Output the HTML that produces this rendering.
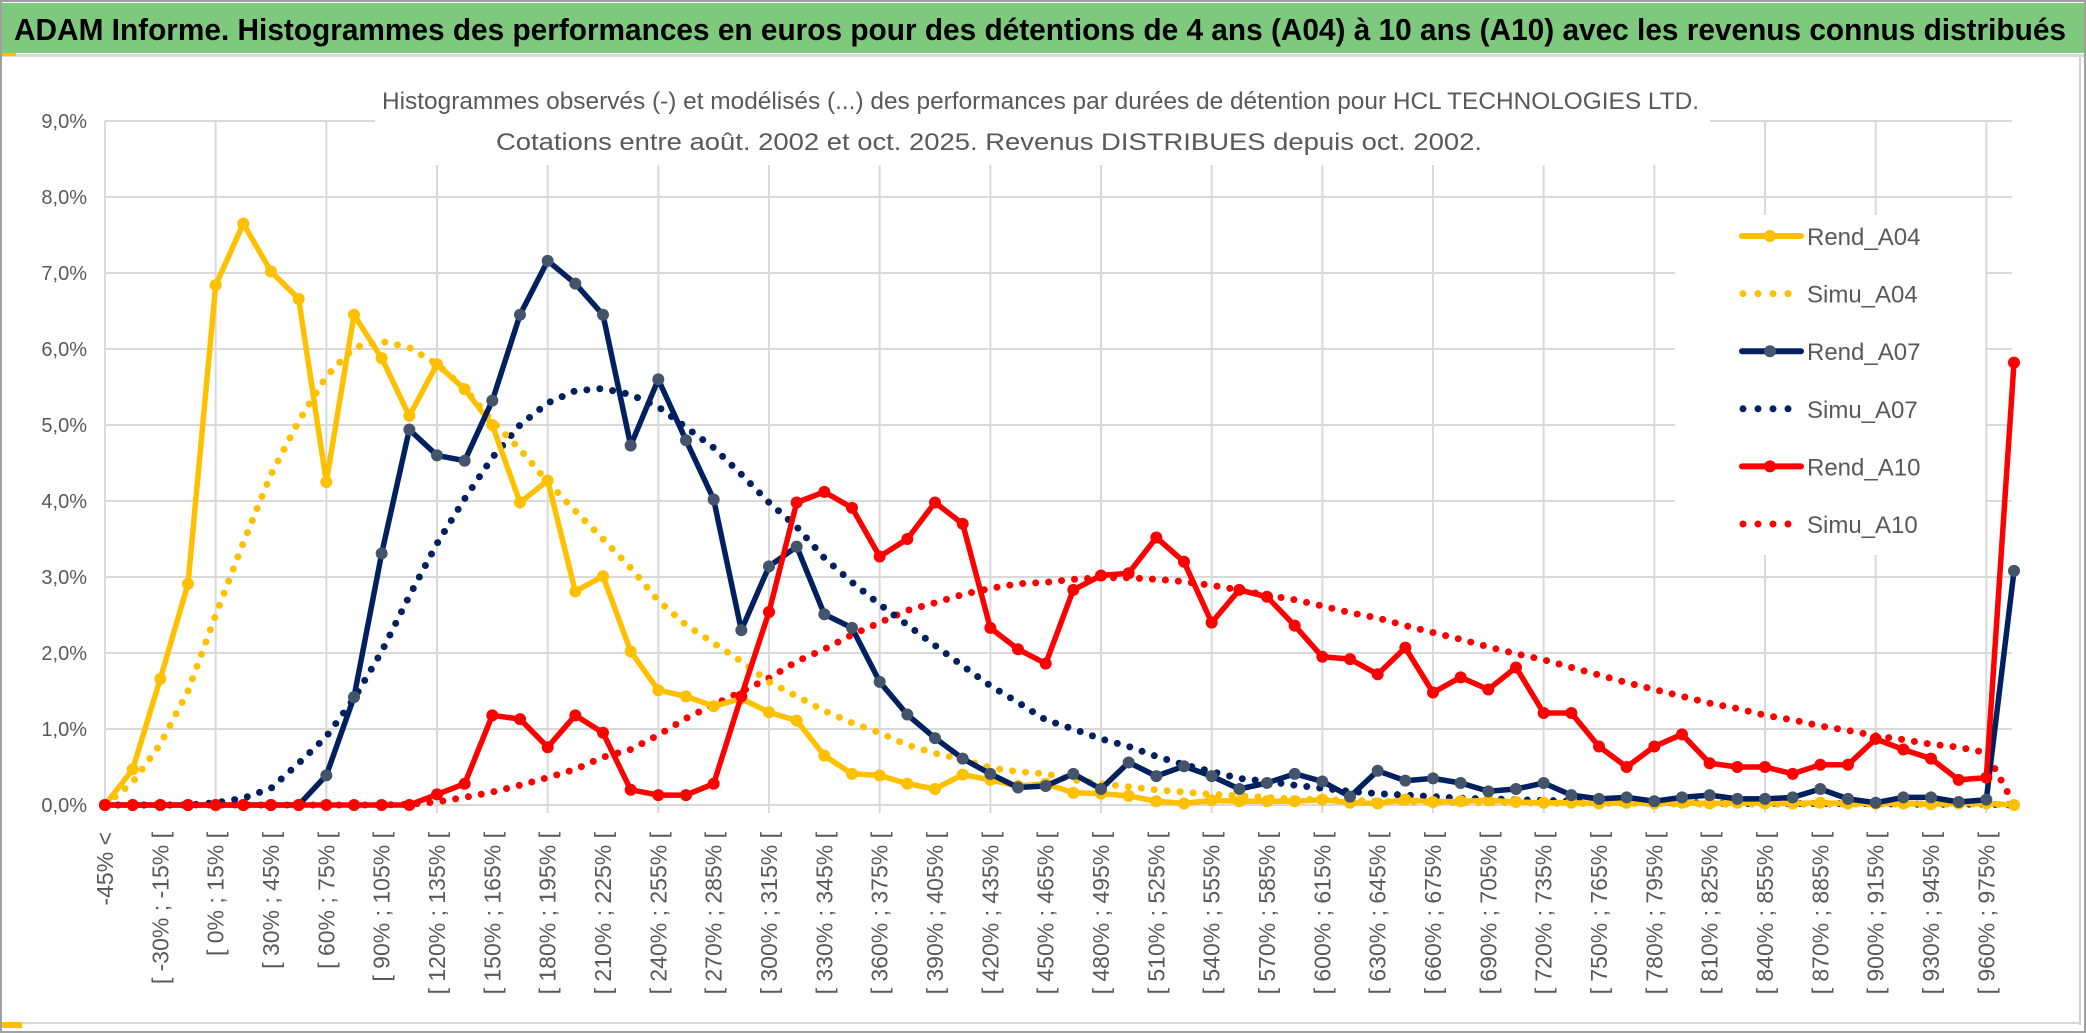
<!DOCTYPE html>
<html><head><meta charset="utf-8"><style>
html,body{margin:0;padding:0;background:#fff;}
svg{display:block;font-family:"Liberation Sans",sans-serif;}
</style></head><body>
<svg id="chart" width="2086" height="1033" viewBox="0 0 2086 1033" xmlns="http://www.w3.org/2000/svg">
<rect x="0" y="0" width="2086" height="1033" fill="#fff"/>
<rect x="1" y="1" width="2084" height="1031" fill="none" stroke="#a0a0a0" stroke-width="2"/>
<rect x="2" y="3" width="2082" height="50" fill="#7fc97f"/>
<rect x="2" y="54" width="2082" height="3" fill="#d9d9d9"/>
<text x="14" y="40" font-size="31" font-weight="bold" fill="#000" textLength="2052" lengthAdjust="spacingAndGlyphs">ADAM Informe. Histogrammes des performances en euros pour des détentions de 4 ans (A04) à 10 ans (A10) avec les revenus connus distribués</text>
<line x1="2080" y1="57" x2="2080" y2="1025" stroke="#d0d0d0" stroke-width="2"/>
<line x1="2" y1="1023" x2="2080" y2="1023" stroke="#d9d9d9" stroke-width="2"/>
<rect x="2" y="1022" width="20" height="6" fill="#ffc000"/>
<rect x="2" y="53" width="14" height="3" fill="#ffc000"/>
<g id="grid"></g>
<g id="ylabels"></g>
<g id="xlabels"></g>
<rect x="1675" y="215" width="310" height="340" fill="#fff"/>
<rect x="375" y="75" width="1335" height="90" fill="#fff"/>
<text x="382" y="109" font-size="24" fill="#595959" textLength="1317" lengthAdjust="spacingAndGlyphs">Histogrammes observés (-) et modélisés (...) des performances par durées de détention pour HCL TECHNOLOGIES LTD.</text>
<text x="496" y="150" font-size="24" fill="#595959" textLength="986" lengthAdjust="spacingAndGlyphs">Cotations entre août. 2002 et oct. 2025. Revenus DISTRIBUES depuis oct. 2002.</text>
<g id="series"></g>
<g id="legend"></g>
</svg>
<script>
const categories = ["-45% <","[ -45% ; -30% [","[ -30% ; -15% [","[ -15% ; 0% [","[ 0% ; 15% [","[ 15% ; 30% [","[ 30% ; 45% [","[ 45% ; 60% [","[ 60% ; 75% [","[ 75% ; 90% [",
"[ 90% ; 105% [","[ 105% ; 120% [","[ 120% ; 135% [","[ 135% ; 150% [","[ 150% ; 165% [","[ 165% ; 180% [","[ 180% ; 195% [","[ 195% ; 210% [","[ 210% ; 225% [","[ 225% ; 240% [",
"[ 240% ; 255% [","[ 255% ; 270% [","[ 270% ; 285% [","[ 285% ; 300% [","[ 300% ; 315% [","[ 315% ; 330% [","[ 330% ; 345% [","[ 345% ; 360% [","[ 360% ; 375% [","[ 375% ; 390% [",
"[ 390% ; 405% [","[ 405% ; 420% [","[ 420% ; 435% [","[ 435% ; 450% [","[ 450% ; 465% [","[ 465% ; 480% [","[ 480% ; 495% [","[ 495% ; 510% [","[ 510% ; 525% [","[ 525% ; 540% [",
"[ 540% ; 555% [","[ 555% ; 570% [","[ 570% ; 585% [","[ 585% ; 600% [","[ 600% ; 615% [","[ 615% ; 630% [","[ 630% ; 645% [","[ 645% ; 660% [","[ 660% ; 675% [","[ 675% ; 690% [",
"[ 690% ; 705% [","[ 705% ; 720% [","[ 720% ; 735% [","[ 735% ; 750% [","[ 750% ; 765% [","[ 765% ; 780% [","[ 780% ; 795% [","[ 795% ; 810% [","[ 810% ; 825% [","[ 825% ; 840% [",
"[ 840% ; 855% [","[ 855% ; 870% [","[ 870% ; 885% [","[ 885% ; 900% [","[ 900% ; 915% [","[ 915% ; 930% [","[ 930% ; 945% [","[ 945% ; 960% [","[ 960% ; 975% [","[ 975% ; 990% ["];
const yTicks = ["0,0%","1,0%","2,0%","3,0%","4,0%","5,0%","6,0%","7,0%","8,0%","9,0%"];
const rendA04 = [0,0.47,1.66,2.91,6.84,7.65,7.02,6.66,4.25,6.45, 5.88,5.12,5.8,5.47,5.0,3.98,4.27,2.81,3.01,2.02, 1.51,1.43,1.30,1.40,1.22,1.11,0.65,0.41,0.39,0.28, 0.21,0.40,0.33,0.25,0.28,0.16,0.15,0.12,0.05,0.02, 0.06,0.05,0.05,0.05,0.07,0.03,0.02,0.07,0.04,0.05, 0.06,0.04,0.03,0.03,0.02,0.03,0.02,0.03,0.02,0.03, 0.02,0.02,0.03,0.02,0.02,0.02,0.01,0.02,0.02,0.0];
const simuA04 = [0,0.3,0.8,1.5,2.5,3.45,4.35,5.05,5.64,6.02, 6.1,6.02,5.8,5.48,5.05,4.68,4.25,3.87,3.5,3.12, 2.69,2.37,2.13,1.89,1.62,1.43,1.24,1.08,0.95,0.79, 0.68,0.6,0.49,0.44,0.41,0.33,0.28,0.24,0.2,0.17, 0.14,0.12,0.1,0.08,0.07,0.06,0.05,0.04,0.04,0.03, 0.03,0.03,0.02,0.02,0.02,0.02,0.02,0.01,0.01,0.01, 0.01,0.01,0.01,0.01,0.01,0.01,0.01,0.01,0.01,0.0];
const rendA07 = [0,0,0,0,0,0,0,0,0.39,1.42, 3.31,4.94,4.6,4.53,5.32,6.45,7.16,6.86,6.45,4.73, 5.6,4.8,4.02,2.3,3.14,3.4,2.51,2.33,1.62,1.19, 0.88,0.61,0.41,0.23,0.25,0.41,0.21,0.56,0.38,0.51, 0.38,0.21,0.29,0.41,0.31,0.11,0.45,0.32,0.35,0.29, 0.18,0.21,0.29,0.13,0.08,0.1,0.05,0.1,0.13,0.08, 0.08,0.1,0.21,0.08,0.03,0.1,0.1,0.04,0.07,3.08];
const simuA07 = [0,0,0,0,0.03,0.09,0.22,0.55,0.9,1.4, 2.02,2.75,3.44,4.03,4.57,5.0,5.29,5.45,5.48,5.4, 5.24,4.97,4.7,4.35,3.98,3.66,3.25,2.93,2.64,2.37, 2.1,1.83,1.57,1.35,1.12,1.0,0.87,0.77,0.64,0.53, 0.44,0.35,0.31,0.26,0.22,0.18,0.15,0.13,0.11,0.09, 0.08,0.07,0.06,0.05,0.04,0.04,0.03,0.03,0.03,0.02, 0.02,0.02,0.02,0.02,0.02,0.01,0.01,0.01,0.01,0.0];
const rendA10 = [0,0,0,0,0,0,0,0,0,0,0,0, 0.14,0.28,1.18,1.13,0.76,1.18,0.95,0.2, 0.13,0.13,0.28,1.43,2.54,3.98,4.12,3.91,3.27,3.5, 3.98,3.7,2.33,2.05,1.86,2.83,3.02,3.05,3.52,3.2, 2.4,2.83,2.74,2.36,1.95,1.92,1.72,2.07,1.48,1.68, 1.52,1.81,1.21,1.21,0.77,0.5,0.77,0.93,0.55,0.5, 0.5,0.41,0.53,0.53,0.87,0.73,0.61,0.33,0.36,5.82];
const simuA10 = [0,0,0,0,0,0,0,0,0,0,0, 0.01,0.04,0.1,0.17,0.26,0.36,0.47,0.63,0.73, 0.92,1.14,1.32,1.49,1.67,1.89,2.05,2.24,2.4,2.56, 2.66,2.77,2.85,2.91,2.93,2.97,2.99,2.99,2.97,2.94, 2.89,2.83,2.76,2.7,2.62,2.53,2.46,2.36,2.27,2.18, 2.08,1.99,1.91,1.81,1.71,1.61,1.52,1.43,1.34,1.27, 1.18,1.12,1.04,0.98,0.91,0.86,0.8,0.76,0.69,0.01];

const NS = "http://www.w3.org/2000/svg";
const plotLeft = 105, plotRight = 2012, plotBottom = 805, pxPerPct = 76;
const step = (2014 - 105) / (categories.length - 1);
function xPos(i){ return plotLeft + i * step; }
function yPos(v){ return plotBottom - v * pxPerPct; }
function mk(tag, attrs, parent){ const e = document.createElementNS(NS, tag); for (const k in attrs) e.setAttribute(k, attrs[k]); parent.appendChild(e); return e; }

const grid = document.getElementById('grid');
yTicks.forEach((t, k) => {
  const gl = mk('line', {x1: plotLeft, x2: plotRight, y1: yPos(k), y2: yPos(k), stroke: '#d9d9d9', 'stroke-width': 2}, grid);
  
  
  const lab = mk('text', {x: 87, y: yPos(k) + 7, 'text-anchor': 'end', 'font-size': 20, fill: '#595959'}, document.getElementById('ylabels'));
  lab.textContent = t;
  
  
});
for (let i = 0; i < categories.length; i += 4) {
  const vl = mk('line', {x1: xPos(i), x2: xPos(i), y1: yPos(9), y2: plotBottom + 8, stroke: '#d9d9d9', 'stroke-width': 2}, grid);
  
  
}
const xl = document.getElementById('xlabels');
categories.forEach((c, i) => {
  if (i % 2 !== 0) return;
  const x = xPos(i) + 8, y = 832;
  const t = mk('text', {x: x, y: y, 'text-anchor': 'end', 'font-size': 23, fill: '#595959', transform: 'rotate(-90 ' + x + ' ' + y + ')'}, xl);
  t.textContent = c;
  
  
});

const seriesG = document.getElementById('series');
function pts(arr){ return arr.map((v, i) => xPos(i).toFixed(1) + ',' + yPos(v).toFixed(1)).join(' '); }
function dotted(arr, color, name){
  const p = mk('polyline', {points: pts(arr), fill: 'none', stroke: color, 'stroke-width': 7, 'stroke-linecap': 'round', 'stroke-dasharray': '0 13'}, seriesG);
  
  
}
function solid(arr, color, mcolor, name){
  const g = mk('g', {}, seriesG);
  
  
  mk('polyline', {points: pts(arr), fill: 'none', stroke: color, 'stroke-width': 5.5, 'stroke-linejoin': 'round'}, g);
  arr.forEach((v, i) => {
    const c = mk('circle', {cx: xPos(i), cy: yPos(v), r: 6, fill: mcolor}, g);
    
    
  });
}
dotted(simuA10, '#ff0000', 'simu-a10-line');
dotted(simuA07, '#002060', 'simu-a07-line');
dotted(simuA04, '#ffc000', 'simu-a04-line');
solid(rendA04, '#ffc000', '#ffc000', 'rend-a04-line');
solid(rendA07, '#002060', '#44546a', 'rend-a07-line');
solid(rendA10, '#ff0000', '#ff0000', 'rend-a10-line');

const legendItems = [["Rend_A04","#ffc000","#ffc000",false],["Simu_A04","#ffc000","",true],["Rend_A07","#002060","#44546a",false],["Simu_A07","#002060","",true],["Rend_A10","#ff0000","#ff0000",false],["Simu_A10","#ff0000","",true]];
const lg = document.getElementById('legend');
legendItems.forEach((it, k) => {
  const cy = 236 + k * 57.6;
  const g = mk('g', {}, lg);
  
  
  if (it[3]) {
    mk('line', {x1: 1743, x2: 1800, y1: cy, y2: cy, stroke: it[1], 'stroke-width': 7, 'stroke-linecap': 'round', 'stroke-dasharray': '0 15'}, g);
  } else {
    mk('line', {x1: 1742, x2: 1801, y1: cy, y2: cy, stroke: it[1], 'stroke-width': 6, 'stroke-linecap': 'round'}, g);
    mk('circle', {cx: 1770, cy: cy, r: 6, fill: it[2]}, g);
  }
  const t = mk('text', {x: 1807, y: cy + 9, 'font-size': 24, fill: '#595959'}, g);
  t.textContent = it[0];
});
</script>
</body></html>
